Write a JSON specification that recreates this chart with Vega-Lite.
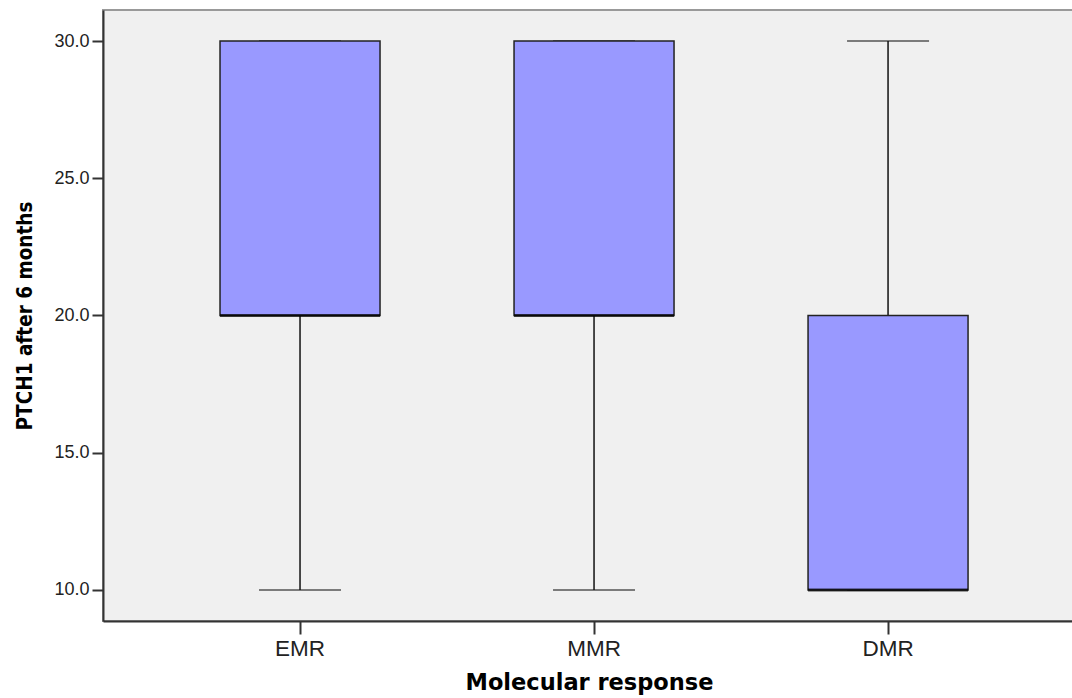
{
  "$schema": "https://vega.github.io/schema/vega-lite/v6.json",
  "width": 972,
  "height": 611,
  "autosize": {"type": "none"},
  "padding": {"left": 103, "top": 10, "right": 0, "bottom": 77},
  "background": "#ffffff",
  "config": {
    "view": {"fill": "#f0f0f0", "stroke": "#999999", "strokeWidth": 2},
    "axis": {"grid": false, "domainColor": "#333333", "domainWidth": 2, "tickColor": "#333333", "tickWidth": 2, "labelFont": "Liberation Sans", "labelColor": "#222222", "titleColor": "#000000"}
  },
  "data": {
    "values": [
      {"response": "EMR", "lower": 10, "q1": 20, "median": 20, "q3": 30, "upper": 30},
      {"response": "MMR", "lower": 10, "q1": 20, "median": 20, "q3": 30, "upper": 30},
      {"response": "DMR", "lower": 10, "q1": 10, "median": 10, "q3": 20, "upper": 30}
    ]
  },
  "encoding": {
    "x": {
      "field": "response", "type": "nominal", "sort": ["EMR", "MMR", "DMR"],
      "scale": {"type": "band", "paddingInner": 0, "paddingOuter": 0.153, "align": 0.556},
      "axis": {"title": "Molecular response", "labelAngle": 0, "labelFontSize": 22.5, "tickSize": 13, "labelPadding": 3, "titleFont": "DejaVu Sans", "titleFontWeight": "bold", "titleFontSize": 22.5, "titlePadding": 12}
    }
  },
  "layer": [
    {
      "mark": {"type": "rule", "color": "#111111", "strokeWidth": 1.5},
      "encoding": {
        "y": {"field": "lower", "type": "quantitative",
          "scale": {"domain": [8.87, 31.13], "nice": false, "zero": false},
          "axis": {"title": "PTCH1 after 6 months", "values": [10, 15, 20, 25, 30], "format": ".1f", "labelFontSize": 18, "tickSize": 11, "labelPadding": 3, "titleFont": "'DejaVu Sans Condensed', 'Liberation Sans'", "titleFontWeight": "bold", "titleFontSize": 20.5, "titlePadding": 18}},
        "y2": {"field": "upper"}
      }
    },
    {
      "mark": {"type": "tick", "color": "#111111", "size": 82, "thickness": 1.5, "orient": "horizontal"},
      "encoding": {"y": {"field": "lower", "type": "quantitative"}}
    },
    {
      "mark": {"type": "tick", "color": "#111111", "size": 82, "thickness": 1.5, "orient": "horizontal"},
      "encoding": {"y": {"field": "upper", "type": "quantitative"}}
    },
    {
      "mark": {"type": "bar", "fill": "#9999ff", "stroke": "#222222", "strokeWidth": 1.5, "width": 160},
      "encoding": {"y": {"field": "q1", "type": "quantitative"}, "y2": {"field": "q3"}}
    },
    {
      "mark": {"type": "tick", "color": "#000000", "size": 160, "thickness": 3, "orient": "horizontal"},
      "encoding": {"y": {"field": "median", "type": "quantitative"}}
    }
  ]
}
